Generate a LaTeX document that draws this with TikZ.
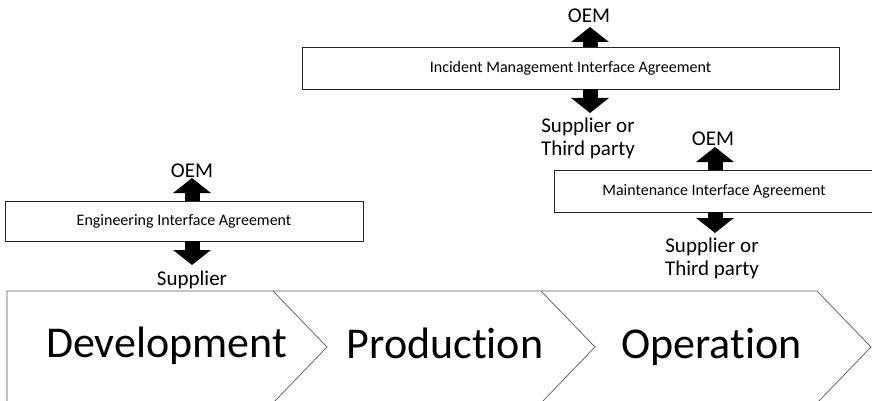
\documentclass[tikz,border=0pt]{standalone}
\usepackage{fontspec}
\setmainfont{Carlito}[Ligatures=CommonOff]
\usetikzlibrary{arrows.meta}
\begin{document}
\begin{tikzpicture}[x=1pt,y=-1pt,
  stage/.style={draw=black!65, line width=0.7pt, line join=miter},
  stagetext/.style={font=\fontsize{44}{53}\selectfont, anchor=base, inner sep=0pt},
  agreement/.style={draw=black!85, line width=0.9pt, fill=white, inner sep=0pt,
    font=\fontsize{16}{19}\selectfont},
  party/.style={font=\fontsize{21}{23}\selectfont, align=center, inner sep=0pt, anchor=base},
  blockarrow/.style={draw=black, line width=15pt, -{Triangle[length=15pt,width=37pt]}}
]
\useasboundingbox (0,0) rectangle (872,401);

% life-cycle phases as chevrons
\draw[stage] (7,405) -- (7,291) -- (273,291) -- (327,347) -- (273,403);
\draw[stage] (273,291) -- (541,291) -- (595,347) -- (541,403);
\draw[stage] (541,291) -- (817,291) -- (871,347) -- (817,403);

\node[stagetext] (dev)  at (166.5,357) {Development};
\node[stagetext] (prod) at (445,358)   {Production};
\node[stagetext] (oper) at (711.5,358) {Operation};

% interface agreements
\node[agreement, minimum width=358pt, minimum height=40pt] (eng) at (184,221)
  {Engineering Interface Agreement};
\node[agreement, minimum width=537pt, minimum height=42pt] (inc) at (570.5,68)
  {Incident Management Interface Agreement};
\node[agreement, minimum width=320pt, minimum height=42pt] (mnt) at (714,191)
  {Maintenance Interface Agreement};

% parties (base = baseline of the last line)
\node[party] (engOEM) at (192,177) {OEM};
\node[party] (engSup) at (192,285) {Supplier};
\node[party] (incOEM) at (589,23)  {OEM};
\node[party] (incSup) at (588,155) {Supplier or\\Third party};
\node[party] (mntOEM) at (713,146) {OEM};
\node[party] (mntSup) at (712,275) {Supplier or\\Third party};

% arrow tips
\coordinate (engUp) at (192,178);
\coordinate (engDn) at (192,265);
\coordinate (incUp) at (590,27);
\coordinate (incDn) at (590,113);
\coordinate (mntUp) at (715,147);
\coordinate (mntDn) at (715,233);

\draw[blockarrow] (eng.north -| engUp) -- (engUp);
\draw[blockarrow] (eng.south -| engDn) -- (engDn);
\draw[blockarrow] (inc.north -| incUp) -- (incUp);
\draw[blockarrow] (inc.south -| incDn) -- (incDn);
\draw[blockarrow] (mnt.north -| mntUp) -- (mntUp);
\draw[blockarrow] (mnt.south -| mntDn) -- (mntDn);
\end{tikzpicture}
\end{document}
